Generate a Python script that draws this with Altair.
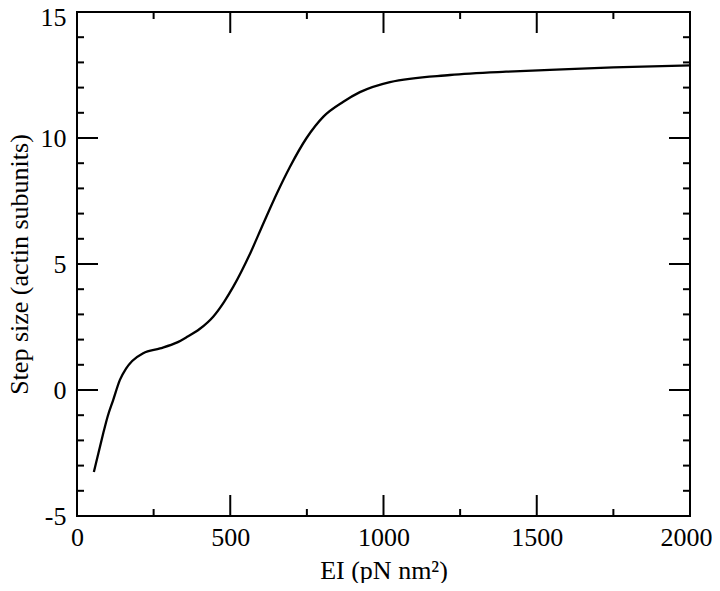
import altair as alt
import pandas as pd

# Curve values
ei = [55, 70, 86, 100, 118, 140, 160, 180, 216, 271, 325, 358, 400, 445, 480,
      510, 565, 608, 652, 695, 749, 804, 869, 923, 1021, 1217, 1400, 1543, 1750, 2000]
step = [-3.25, -2.5, -1.7, -1.05, -0.4, 0.4, 0.85, 1.15, 1.46, 1.65, 1.88, 2.1,
        2.42, 2.92, 3.5, 4.1, 5.42, 6.61, 7.8, 8.86, 10.0, 10.85, 11.44, 11.82,
        12.22, 12.5, 12.63, 12.7, 12.8, 12.88]

x_major = [0, 500, 1000, 1500, 2000]
x_minor = [250, 750, 1250, 1750]
y_major = [-5, 0, 5, 10, 15]
y_minor = [-4, -3, -2, -1, 1, 2, 3, 4, 6, 7, 8, 9, 11, 12, 13, 14]

W, H = 613, 504
MAJ, MIN = 21, 7
FONT = "Liberation Serif"

df = pd.DataFrame({"ei": ei, "step": step})

xscale = alt.Scale(domain=[0, 2000], nice=False, zero=False)
yscale = alt.Scale(domain=[-5, 15], nice=False, zero=False)

line = alt.Chart(df).mark_line(color="black", strokeWidth=2.3, interpolate="monotone").encode(
    x=alt.X("ei:Q", scale=xscale,
            axis=alt.Axis(values=x_major, title="EI (pN nm²)", labelFlush=False,
                          labelExpr="'' + datum.value",
                          labelOffset={"condition": {"test": "datum.value == 2000", "value": -4}, "value": 0},
                          labelOverlap=False, ticks=False, domain=False, grid=False,
                          labelFont=FONT, labelFontSize=26, labelPadding=8,
                          labelColor="black", titleFont=FONT, titleFontSize=26,
                          titleFontWeight="normal", titleColor="black",
                          titleX=W / 2, titleY=62, titleBaseline="alphabetic",
                          titleAlign="center")),
    y=alt.Y("step:Q", scale=yscale,
            axis=alt.Axis(values=y_major, title="Step size (actin subunits)",
                          labelExpr="'' + datum.value",
                          labelOffset={"condition": {"test": "datum.value == 15", "value": 5}, "value": 0},
                          labelOverlap=False, ticks=False, domain=False, grid=False,
                          labelFont=FONT, labelFontSize=26, labelPadding=11,
                          labelColor="black", titleFont=FONT, titleFontSize=26,
                          titleFontWeight="normal", titleColor="black",
                          titleX=-50, titleY=H / 2, titleAngle=-90,
                          titleBaseline="alphabetic", titleAlign="center")),
)

dxM = pd.DataFrame({"v": x_major})
dxm = pd.DataFrame({"v": x_minor})
dyM = pd.DataFrame({"v": y_major})
dym = pd.DataFrame({"v": y_minor})

def xticks(d, length):
    bottom = alt.Chart(d).mark_rule(color="black", strokeWidth=2).encode(
        x=alt.X("v:Q", scale=xscale), y=alt.value(H), y2=alt.value(H - length))
    top = alt.Chart(d).mark_rule(color="black", strokeWidth=2).encode(
        x=alt.X("v:Q", scale=xscale), y=alt.value(0), y2=alt.value(length))
    return bottom + top

def yticks(d, length):
    left = alt.Chart(d).mark_rule(color="black", strokeWidth=2).encode(
        y=alt.Y("v:Q", scale=yscale), x=alt.value(0), x2=alt.value(length))
    right = alt.Chart(d).mark_rule(color="black", strokeWidth=2).encode(
        y=alt.Y("v:Q", scale=yscale), x=alt.value(W), x2=alt.value(W - length))
    return left + right

chart = alt.layer(
    xticks(dxM, MAJ), xticks(dxm, MIN), yticks(dyM, MAJ), yticks(dym, MIN), line
).properties(
    width=W, height=H,
    autosize=alt.AutoSizeParams(type="none"),
    padding={"left": 69, "top": 4, "right": 22, "bottom": 67},
    background="white",
).configure_view(stroke="black", strokeWidth=2)

chart.save("out.html", embed_options={"renderer": "svg", "actions": False})
